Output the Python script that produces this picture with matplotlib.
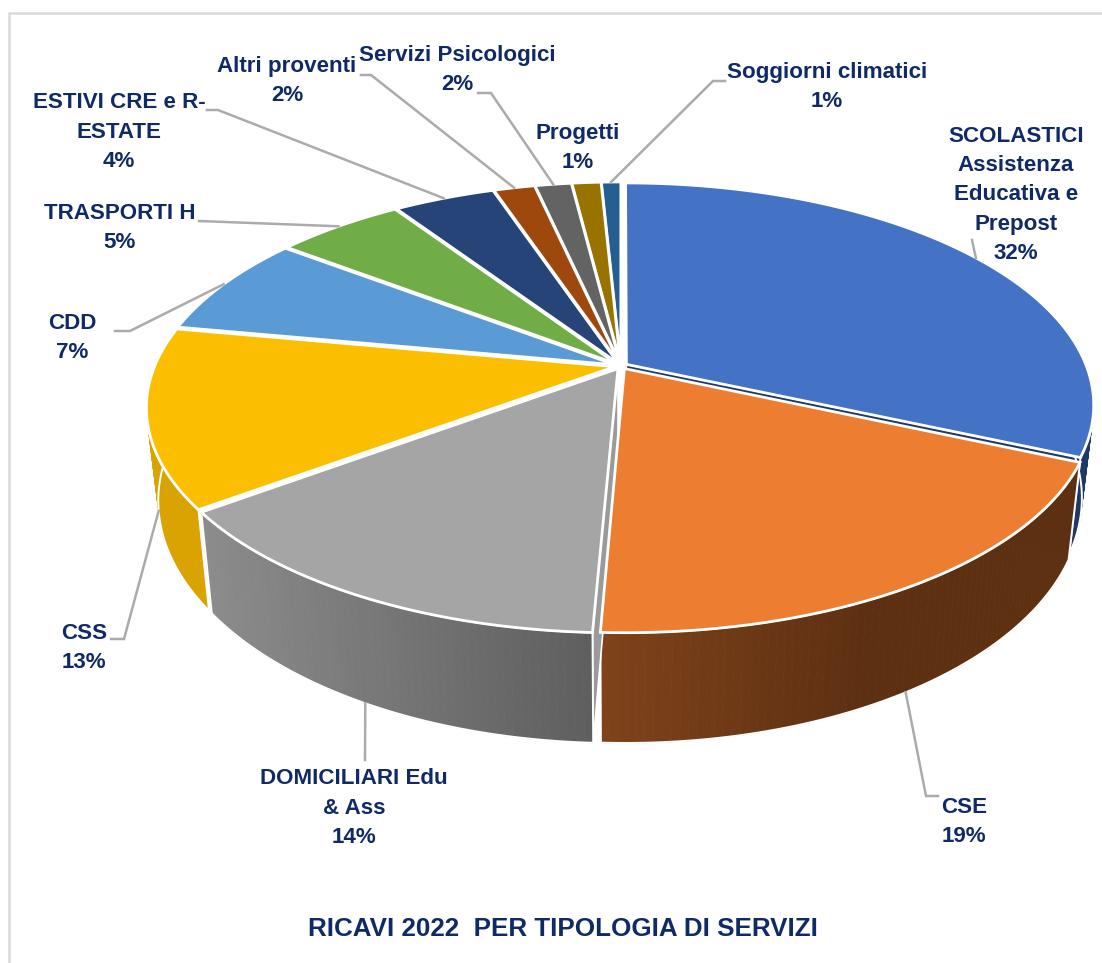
import numpy as np
import matplotlib
matplotlib.use("Agg")
import matplotlib.pyplot as plt
from matplotlib import font_manager as fm
from matplotlib.patches import Polygon
from matplotlib.collections import PolyCollection
from matplotlib.colors import to_rgb

names = ["SCOLASTICI\nAssistenza\nEducativa e\nPrepost", "CSE", "DOMICILIARI Edu\n& Ass", "CSS", "CDD",
         "TRASPORTI H", "ESTIVI CRE e R-\nESTATE", "Altri proventi", "Servizi Psicologici", "Progetti",
         "Soggiorni climatici"]
values = [31.6, 19.1, 14.2, 13.0, 7.4, 5.3, 4.2, 1.7, 1.5, 1.2, 0.8]
colors = ["#4472C4", "#ED7D31", "#A5A5A5", "#FBBE00", "#5B9BD5", "#70AD47", "#264478", "#9E480E", "#636363",
          "#997300", "#255E91"]
# side wall shades, left and right end of the gradient; the rear slices show no wall
wall_left = ["#1F3864", "#80431B", "#8C8C8C", "#D9A300", None, None, None, None, None, None, None]
wall_right = ["#1F3864", "#5E3012", "#5F5F5F", "#D9A300", None, None, None, None, None, None, None]
grad_span = [1, 0.55, 1, 1, 1, 1, 1, 1, 1, 1, 1]
# which radial cut face shows (index into the rim points) and its shade
cut_end = [-1, None, 0, None, None, None, None, None, None, None, None]
cut_color = ["#1F3864", None, "#9A9A9A", None, None, None, None, None, None, None, None]
title = "RICAVI 2022  PER TIPOLOGIA DI SERVIZI"

# label centre, then the elbow of the leader line
label_xy = [(1016, 195), (964, 822), (354, 808), (84, 648), (72, 338), (120, 228), (119, 132), (287, 81),
            (457, 70), (578, 148), (827, 87)]
elbows = [[(972, 240)], [(926, 796), (938, 796)], [(365, 760)], [(124, 639), (111, 639)], [(130, 331), (115, 331)],
          [(199, 221)], [(218, 110), (207, 110)], [(371, 75), (361, 75)], [(491, 93), (478, 93)], [],
          [(713, 81), (725, 81)]]
# where the leader meets the slice: 0 on the top rim, 1 at the foot of the wall
anchor_level = [0, 1, 1, 1, 0, 0, 0, 0, 0, 0, 0]

CX, CY, A, K, C, D, EXPL = 621, 366, 460, 215, 0.182, 90, 0.014
NAVY = "#0F2A66"
have = {f.name for f in fm.fontManager.ttflist}
FONT = ["Liberation Sans Narrow"] if "Liberation Sans Narrow" in have else ["Liberation Sans"]


def project(u, v, level=0.0):
    den = 1 + C * v
    return CX + A * u / den * (1 - 0.025 * level), CY - K * v / den + level * D / den


def rim(th, off, level=0.0):
    return project(np.sin(th) + off[0], np.cos(th) + off[1], level)


fig = plt.figure(figsize=(11.02, 9.63), dpi=100)
ax = fig.add_axes([0, 0, 1, 1])
ax.set_xlim(0, 1102)
ax.set_ylim(963, 0)
ax.axis("off")
ax.plot([9, 9, 1102], [963, 13, 13], color="#D9D9D9", lw=1.8, solid_joinstyle="miter")

edges = np.radians(np.concatenate([[0], np.cumsum(values)]) * 3.6)
mids = (edges[:-1] + edges[1:]) / 2
offs = [(EXPL * np.sin(m), EXPL * np.cos(m)) for m in mids]

# back to front, so the front walls cover what lies behind them
for rank, i in enumerate(np.argsort(-np.cos(mids), kind="stable")):
    th = np.linspace(edges[i], edges[i + 1], max(int(values[i] * 4), 6))
    off = offs[i]
    xt, yt = rim(th, off)
    apex = project(off[0], off[1])
    z = 2 + 0.01 * rank
    if wall_left[i]:
        xb, yb = rim(th, off, 1)
        if cut_end[i] is not None:
            j = cut_end[i]
            cut = [apex, (xt[j], yt[j]), (xb[j], yb[j]), project(off[0], off[1], 1)]
            ax.add_patch(Polygon(cut, fc=cut_color[i], ec="white", lw=1.2, zorder=z))
        cl, cr = np.array(to_rgb(wall_left[i])), np.array(to_rgb(wall_right[i]))
        quads, cols = [], []
        for j in range(len(th) - 1):
            quads.append([(xt[j], yt[j]), (xt[j + 1], yt[j + 1]), (xb[j + 1], yb[j + 1]), (xb[j], yb[j])])
            f = np.clip((xt[j] - xt.min()) / (grad_span[i] * (xt.max() - xt.min())), 0, 1)
            cols.append(cl + (cr - cl) * f)
        ax.add_collection(PolyCollection(quads, facecolors=cols, edgecolors=cols, linewidths=0.6, zorder=z + 0.001))
        ax.add_patch(Polygon(list(zip(xt, yt)) + list(zip(xb[::-1], yb[::-1])), fc="none", ec="white", lw=1.4,
                             zorder=z + 0.002))
    ax.add_patch(Polygon([apex] + list(zip(xt, yt)), fc=colors[i], ec="white", lw=2.0, joinstyle="miter",
                         zorder=z + 1))

for i, nm in enumerate(names):
    ax.text(label_xy[i][0], label_xy[i][1], f"{nm}\n{round(values[i])}%", ha="center", va="center", color=NAVY,
            family=FONT, weight="bold", fontsize=16.1, linespacing=1.52, zorder=6)
    if elbows[i]:
        pts = [rim(mids[i], offs[i], anchor_level[i])] + elbows[i]
        ax.plot(*zip(*pts), color="#ABABAB", lw=1.8, solid_joinstyle="miter", zorder=5)

ax.text(563, 929, title, ha="center", va="center", color=NAVY, family=FONT, weight="bold", fontsize=18.7, zorder=6)
fig.savefig("out.png", dpi=100)
